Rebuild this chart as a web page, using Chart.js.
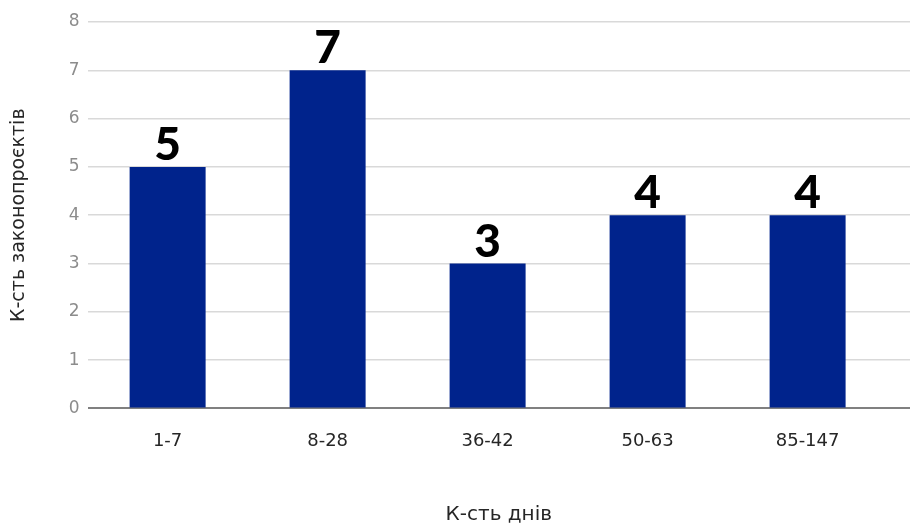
<!DOCTYPE html>
<html>
<head>
<meta charset="utf-8">
<script src="https://cdn.jsdelivr.net/npm/chart.js@4.4.1/dist/chart.umd.min.js"></script>
<style>
  html, body { margin: 0; padding: 0; background: #ffffff; }
  #wrap { width: 911px; height: 527px; position: relative; }
</style>
</head>
<body>
<div id="wrap"><canvas id="chart"></canvas></div>
<script>
// Number of draft laws by how many days they took
const categories = ['1-7', '8-28', '36-42', '50-63', '85-147'];
const counts = [5, 7, 3, 4, 4];
const yTicks = [0, 1, 2, 3, 4, 5, 6, 7, 8];
const xTitle = 'К-сть днів';
const yTitle = 'К-сть законопроєктів';

const BAR_COLOR = '#00238c';
const FONT = '"DejaVu Sans", sans-serif';
const VALUE_FONT = '900 46px Lato, "DejaVu Sans", sans-serif';

// Big heavy value printed above each bar
const valueLabels = {
  id: 'valueLabels',
  afterDatasetsDraw(chart) {
    const { ctx } = chart;
    const meta = chart.getDatasetMeta(0);
    ctx.save();
    ctx.font = VALUE_FONT;
    ctx.fillStyle = '#000000';
    ctx.textAlign = 'center';
    ctx.textBaseline = 'alphabetic';
    meta.data.forEach((bar, i) => {
      ctx.fillText(String(counts[i]), bar.x, bar.y - 7);
    });
    ctx.restore();
  }
};

new Chart(document.getElementById('chart'), {
  type: 'bar',
  data: {
    labels: categories,
    datasets: [{
      data: counts,
      backgroundColor: BAR_COLOR,
      borderWidth: 0,
      barPercentage: 0.475,
      categoryPercentage: 1.0
    }]
  },
  options: {
    responsive: true,
    maintainAspectRatio: false,
    animation: false,
    layout: { padding: { top: 22, right: 1, left: 8, bottom: 0 } },
    plugins: {
      legend: { display: false },
      tooltip: { enabled: false }
    },
    scales: {
      x: {
        type: 'category',
        offset: true,
        // spread the five groups a little less than the full plot width
        afterBuildTicks(scale) { scale._valueRange = 5.14; },
        grid: { display: false, drawTicks: false },
        border: { display: false },
        ticks: {
          color: '#262626',
          font: { family: FONT, size: 18 },
          padding: 22
        },
        title: {
          display: true,
          text: xTitle,
          color: '#262626',
          font: { family: FONT, size: 20 },
          padding: { top: 29, bottom: 0 }
        }
      },
      y: {
        min: 0,
        max: 8,
        afterBuildTicks(scale) { scale.ticks = yTicks.map(v => ({ value: v })); },
        grid: {
          color: ctx => ctx.tick.value === 0 ? '#808080' : '#d9d9d9',
          lineWidth: ctx => ctx.tick.value === 0 ? 2 : 1.5,
          drawTicks: false
        },
        border: { display: false },
        ticks: {
          color: '#8c8c8c',
          font: { family: FONT, size: 17 },
          padding: 8
        },
        title: {
          display: true,
          text: yTitle,
          color: '#262626',
          font: { family: FONT, size: 19 },
          padding: { top: 0, bottom: 30 }
        }
      }
    }
  },
  plugins: [valueLabels]
});
</script>
</body>
</html>
